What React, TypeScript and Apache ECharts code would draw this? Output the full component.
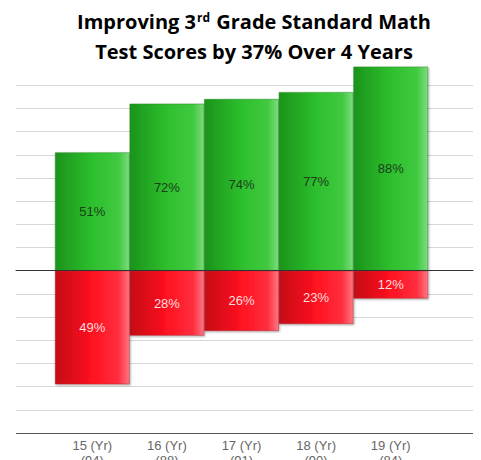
import React, { useEffect, useRef } from 'react';
import * as echarts from 'echarts';

const categories = ['15 (Yr)\n(94)', '16 (Yr)\n(88)', '17 (Yr)\n(91)', '18 (Yr)\n(90)', '19 (Yr)\n(84)'];
const passRates = [51, 72, 74, 77, 88];
const failRates = [49, 28, 26, 23, 12];
const yMin = -70;
const yMax = 90;
const yInterval = 10;

export default function App() {
  const ref = useRef<HTMLDivElement>(null);
  useEffect(() => {
    if (!ref.current) return;
    const chart = echarts.init(ref.current, null, { renderer: 'svg' });
    const gridColors: string[] = [];
    for (let v = yMin; v < yMax; v += yInterval) {
      gridColors.push(v === yMin ? '#555555' : v === 0 ? '#333333' : '#d6d6d6');
    }
    const green = new echarts.graphic.LinearGradient(0, 0, 1, 0, [
      { offset: 0, color: '#1b931b' },
      { offset: 0.5, color: '#2dbf2d' },
      { offset: 0.85, color: '#40c940' },
      { offset: 1, color: '#7ddc7d' },
    ]);
    const red = new echarts.graphic.LinearGradient(0, 0, 1, 0, [
      { offset: 0, color: '#c40a14' },
      { offset: 0.5, color: '#ff1220' },
      { offset: 0.85, color: '#ff2e3e' },
      { offset: 1, color: '#ff7684' },
    ]);
    const labelFont = '"Liberation Sans", Arial, sans-serif';
    const titleFont = '"Open Sans", Lato, sans-serif';
    chart.setOption({
      animation: false,
      title: {
        left: 249,
        textAlign: 'center',
        top: 1,
        text: 'Improving 3{sup|rd} Grade Standard Math\nTest Scores by 37% Over 4 Years',
        textStyle: {
          fontFamily: titleFont,
          fontWeight: 'bold',
          fontSize: 20,
          lineHeight: 30,
          color: '#000',
          rich: {
            sup: {
              fontFamily: titleFont,
              fontWeight: 'bold',
              fontSize: 12,
              lineHeight: 12,
              verticalAlign: 'top',
              padding: [5, 1, 0, 1],
              color: '#000',
            },
          },
        },
      },
      grid: [
        { left: 16, right: 8, top: 62, bottom: 27, outerBoundsMode: 'none', containLabel: false },
        { left: 55, right: 53, top: 62, bottom: 27, outerBoundsMode: 'none', containLabel: false },
      ],
      xAxis: [
        {
          gridIndex: 0,
          type: 'value',
          min: 0,
          max: 1,
          z: 10,
          axisLine: { show: true, onZero: true, lineStyle: { color: '#333', width: 1 } },
          axisTick: { show: false },
          axisLabel: { show: false },
          splitLine: { show: false },
        },
        {
          gridIndex: 1,
          type: 'category',
          data: categories,
          axisLine: { show: false, onZero: false },
          axisTick: { show: false },
          axisLabel: {
            color: '#666',
            fontSize: 13,
            lineHeight: 15,
            margin: 5,
            fontFamily: labelFont,
          },
        },
      ],
      yAxis: [
        {
          gridIndex: 0,
          type: 'value',
          min: yMin,
          max: yMax,
          interval: yInterval,
          axisLine: { show: false },
          axisTick: { show: false },
          axisLabel: { show: false },
          splitLine: {
            show: true,
            showMaxLine: false,
            lineStyle: { color: gridColors, width: 1 },
          },
        },
        {
          gridIndex: 1,
          type: 'value',
          min: yMin,
          max: yMax,
          interval: yInterval,
          show: false,
          splitLine: { show: false },
        },
      ],
      series: [
        {
          type: 'bar',
          xAxisIndex: 1,
          yAxisIndex: 1,
          stack: 'total',
          barWidth: '100%',
          data: passRates,
          itemStyle: {
            color: green,
            borderColor: '#2f8a2f',
            borderWidth: 0.5,
            shadowColor: 'rgba(0,0,0,0.35)',
            shadowBlur: 2,
            shadowOffsetX: 1,
            shadowOffsetY: 1,
          },
          label: {
            show: true,
            position: 'inside',
            formatter: (p: any) => `${p.value}%`,
            color: '#1a401a',
            fontSize: 13,
            fontFamily: labelFont,
          },
        },
        {
          type: 'bar',
          xAxisIndex: 1,
          yAxisIndex: 1,
          stack: 'total',
          barWidth: '100%',
          data: failRates.map((v) => -v),
          itemStyle: {
            color: red,
            borderColor: '#a8303a',
            borderWidth: 0.5,
            shadowColor: 'rgba(0,0,0,0.35)',
            shadowBlur: 2,
            shadowOffsetX: 1,
            shadowOffsetY: 1,
          },
          label: {
            show: true,
            position: 'inside',
            formatter: (p: any) => `${Math.abs(p.value)}%`,
            color: '#ffdede',
            fontSize: 13,
            fontFamily: labelFont,
          },
        },
      ],
    });
    return () => chart.dispose();
  }, []);
  return <div ref={ref} style={{ position: 'absolute', left: 0, top: 0, width: 481, height: 460 }} />;
}
